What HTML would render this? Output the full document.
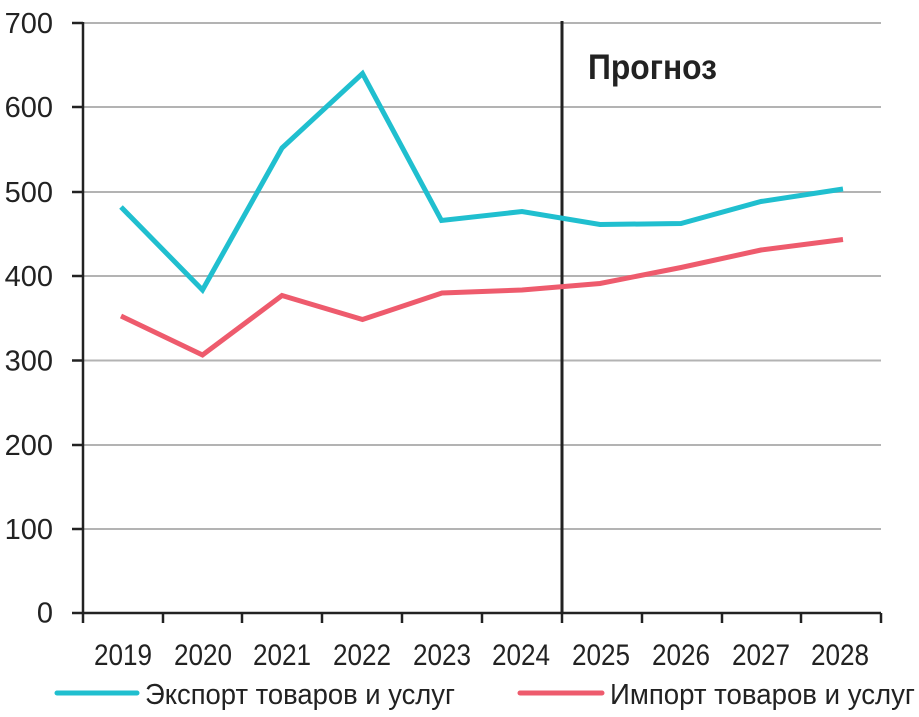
<!DOCTYPE html>
<html><head><meta charset="utf-8"><style>
html,body{margin:0;padding:0;background:#fff;}
svg{display:block;}
text{font-family:"Liberation Sans",sans-serif;fill:#222;}
</style></head><body>
<svg width="919" height="717" viewBox="0 0 919 717" xmlns="http://www.w3.org/2000/svg">
<g stroke="#b3b3b3" stroke-width="2">
<line x1="83" y1="23" x2="881" y2="23"/>
<line x1="83" y1="107" x2="881" y2="107"/>
<line x1="83" y1="192" x2="881" y2="192"/>
<line x1="83" y1="276" x2="881" y2="276"/>
<line x1="83" y1="360.5" x2="881" y2="360.5"/>
<line x1="83" y1="445" x2="881" y2="445"/>
<line x1="83" y1="529" x2="881" y2="529"/>
</g>
<g stroke="#222" stroke-width="2.5">
<line x1="83" y1="22" x2="83" y2="613"/>
<line x1="72" y1="23" x2="83" y2="23"/>
<line x1="72" y1="107" x2="83" y2="107"/>
<line x1="72" y1="192" x2="83" y2="192"/>
<line x1="72" y1="276" x2="83" y2="276"/>
<line x1="72" y1="360.5" x2="83" y2="360.5"/>
<line x1="72" y1="445" x2="83" y2="445"/>
<line x1="72" y1="529" x2="83" y2="529"/>
<line x1="72" y1="613" x2="881" y2="613"/>
<line x1="83" y1="613" x2="83" y2="623"/>
<line x1="163" y1="613" x2="163" y2="623"/>
<line x1="242" y1="613" x2="242" y2="623"/>
<line x1="322" y1="613" x2="322" y2="623"/>
<line x1="402" y1="613" x2="402" y2="623"/>
<line x1="482" y1="613" x2="482" y2="623"/>
<line x1="562" y1="613" x2="562" y2="623"/>
<line x1="642" y1="613" x2="642" y2="623"/>
<line x1="722" y1="613" x2="722" y2="623"/>
<line x1="801" y1="613" x2="801" y2="623"/>
<line x1="881" y1="613" x2="881" y2="623"/>
</g>
<line x1="562" y1="21" x2="562" y2="613" stroke="#222" stroke-width="3"/>
<polyline fill="none" stroke="#20BFCF" stroke-width="5" stroke-linejoin="miter" points="121,207 202.5,290 282,148 362.5,73.5 441.5,220.5 522,211.5 600,224.5 681,223.5 761,201.5 843,189"/>
<polyline fill="none" stroke="#EE5B6D" stroke-width="5" stroke-linejoin="miter" points="121,316 202.5,355 282,295.5 362.5,319.5 442,293 522,290 600,283.5 681,267.5 761,250 843,239.5"/>
<g font-size="29" text-anchor="end">
<text x="53" y="33">700</text>
<text x="53" y="117">600</text>
<text x="53" y="202">500</text>
<text x="53" y="286">400</text>
<text x="53" y="370.5">300</text>
<text x="53" y="455">200</text>
<text x="53" y="539">100</text>
<text x="53" y="622.5">0</text>
</g>
<g font-size="30">
<text x="94" y="665" textLength="58" lengthAdjust="spacingAndGlyphs">2019</text>
<text x="174" y="665" textLength="58" lengthAdjust="spacingAndGlyphs">2020</text>
<text x="253" y="665" textLength="58" lengthAdjust="spacingAndGlyphs">2021</text>
<text x="333" y="665" textLength="58" lengthAdjust="spacingAndGlyphs">2022</text>
<text x="413" y="665" textLength="58" lengthAdjust="spacingAndGlyphs">2023</text>
<text x="492" y="665" textLength="58" lengthAdjust="spacingAndGlyphs">2024</text>
<text x="572" y="665" textLength="58" lengthAdjust="spacingAndGlyphs">2025</text>
<text x="652" y="665" textLength="58" lengthAdjust="spacingAndGlyphs">2026</text>
<text x="732" y="665" textLength="58" lengthAdjust="spacingAndGlyphs">2027</text>
<text x="811" y="665" textLength="58" lengthAdjust="spacingAndGlyphs">2028</text>
</g>
<text x="588" y="79" font-size="35" font-weight="bold" textLength="129" lengthAdjust="spacingAndGlyphs">Прогноз</text>
<line x1="57" y1="693" x2="137" y2="693" stroke="#20BFCF" stroke-width="5" stroke-linecap="round"/>
<text x="145" y="704" font-size="29" textLength="310" lengthAdjust="spacingAndGlyphs">Экспорт товаров и услуг</text>
<line x1="520" y1="693" x2="602" y2="693" stroke="#EE5B6D" stroke-width="5" stroke-linecap="round"/>
<text x="610" y="704" font-size="29" textLength="305" lengthAdjust="spacingAndGlyphs">Импорт товаров и услуг</text>
</svg>
</body></html>
